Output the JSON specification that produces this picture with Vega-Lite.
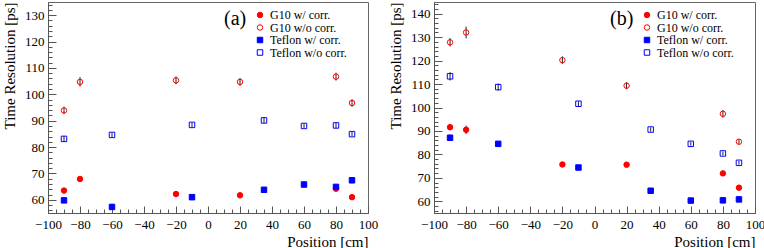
{
  "$schema": "https://vega.github.io/schema/vega-lite/v6.json",
  "padding": {"left": 1, "top": -3, "right": 0, "bottom": 0},
  "spacing": 66,
  "bounds": "flush",
  "config": {
    "view": {"stroke": "#666", "strokeWidth": 1},
    "font": "Liberation Serif",
    "style": {
      "guide-label": {"font": "Liberation Serif", "fill": "black"},
      "guide-title": {"font": "Liberation Serif", "fill": "black"}
    },
    "axis": {
      "grid": false, "domainColor": "#555", "tickColor": "#555", "labelColor": "black", "titleColor": "black",
      "labelFont": "Liberation Serif", "titleFont": "Liberation Serif", "labelFontSize": 13, "titleFontSize": 15, "titleFontWeight": "normal",
      "labelFlush": false, "labelOverlap": false, "titleAnchor": "end"
    },
    "legend": {
      "labelFont": "Liberation Serif",
      "titleFont": "Liberation Serif",
      "labelFontSize": 12,
      "titleFontSize": 20,
      "titleFontWeight": "normal",
      "labelColor": "black",
      "titleColor": "black"
    }
  },
  "datasets": {
    "a": [
      {"series": "G10 w/ corr.", "pos": -90, "res": 63.5, "lo": 62.8, "hi": 64.2},
      {"series": "G10 w/ corr.", "pos": -80, "res": 67.9, "lo": 66.9, "hi": 68.9},
      {"series": "G10 w/ corr.", "pos": -20, "res": 62.2, "lo": 61.5, "hi": 62.9},
      {"series": "G10 w/ corr.", "pos": 20, "res": 61.7, "lo": 61.0, "hi": 62.4},
      {"series": "G10 w/ corr.", "pos": 80, "res": 64.2, "lo": 63.5, "hi": 64.9},
      {"series": "G10 w/ corr.", "pos": 90, "res": 61.0, "lo": 60.4, "hi": 61.6},
      {"series": "G10 w/o corr.", "pos": -90, "res": 93.9, "lo": 92.5, "hi": 95.3},
      {"series": "G10 w/o corr.", "pos": -80, "res": 104.7, "lo": 102.9, "hi": 106.5},
      {"series": "G10 w/o corr.", "pos": -20, "res": 105.3, "lo": 103.8, "hi": 106.8},
      {"series": "G10 w/o corr.", "pos": 20, "res": 104.7, "lo": 103.2, "hi": 106.2},
      {"series": "G10 w/o corr.", "pos": 80, "res": 106.7, "lo": 105.2, "hi": 108.2},
      {"series": "G10 w/o corr.", "pos": 90, "res": 96.7, "lo": 95.3, "hi": 98.1},
      {"series": "Teflon w/ corr.", "pos": -90, "res": 59.8, "lo": 59.3, "hi": 60.3},
      {"series": "Teflon w/ corr.", "pos": -60, "res": 57.3, "lo": 56.8, "hi": 57.8},
      {"series": "Teflon w/ corr.", "pos": -10, "res": 61.0, "lo": 60.5, "hi": 61.5},
      {"series": "Teflon w/ corr.", "pos": 35, "res": 63.8, "lo": 63.3, "hi": 64.3},
      {"series": "Teflon w/ corr.", "pos": 60, "res": 65.8, "lo": 65.3, "hi": 66.3},
      {"series": "Teflon w/ corr.", "pos": 80, "res": 64.9, "lo": 64.4, "hi": 65.4},
      {"series": "Teflon w/ corr.", "pos": 90, "res": 67.4, "lo": 66.9, "hi": 67.9},
      {"series": "Teflon w/o corr.", "pos": -90, "res": 83.1, "lo": 82.0, "hi": 84.2},
      {"series": "Teflon w/o corr.", "pos": -60, "res": 84.6, "lo": 83.8, "hi": 85.4},
      {"series": "Teflon w/o corr.", "pos": -10, "res": 88.4, "lo": 87.6, "hi": 89.2},
      {"series": "Teflon w/o corr.", "pos": 35, "res": 90.1, "lo": 89.1, "hi": 91.1},
      {"series": "Teflon w/o corr.", "pos": 60, "res": 88.0, "lo": 87.2, "hi": 88.8},
      {"series": "Teflon w/o corr.", "pos": 80, "res": 88.2, "lo": 87.1, "hi": 89.3},
      {"series": "Teflon w/o corr.", "pos": 90, "res": 84.9, "lo": 84.1, "hi": 85.7}
    ],
    "b": [
      {"series": "G10 w/ corr.", "pos": -90, "res": 91.6, "lo": 90.3, "hi": 92.9},
      {"series": "G10 w/ corr.", "pos": -80, "res": 90.5, "lo": 88.7, "hi": 92.3},
      {"series": "G10 w/ corr.", "pos": -20, "res": 75.7, "lo": 75.0, "hi": 76.4},
      {"series": "G10 w/ corr.", "pos": 20, "res": 75.6, "lo": 74.9, "hi": 76.3},
      {"series": "G10 w/ corr.", "pos": 80, "res": 71.9, "lo": 71.2, "hi": 72.6},
      {"series": "G10 w/ corr.", "pos": 90, "res": 65.8, "lo": 65.1, "hi": 66.5},
      {"series": "G10 w/o corr.", "pos": -90, "res": 127.8, "lo": 126.0, "hi": 129.6},
      {"series": "G10 w/o corr.", "pos": -80, "res": 132.0, "lo": 129.5, "hi": 134.5},
      {"series": "G10 w/o corr.", "pos": -20, "res": 120.2, "lo": 118.6, "hi": 121.8},
      {"series": "G10 w/o corr.", "pos": 20, "res": 109.3, "lo": 107.8, "hi": 110.8},
      {"series": "G10 w/o corr.", "pos": 80, "res": 97.3, "lo": 95.7, "hi": 98.9},
      {"series": "G10 w/o corr.", "pos": 90, "res": 85.4, "lo": 84.4, "hi": 86.4},
      {"series": "Teflon w/ corr.", "pos": -90, "res": 87.1, "lo": 85.8, "hi": 88.4},
      {"series": "Teflon w/ corr.", "pos": -60, "res": 84.5, "lo": 83.7, "hi": 85.3},
      {"series": "Teflon w/ corr.", "pos": -10, "res": 74.4, "lo": 73.8, "hi": 75.0},
      {"series": "Teflon w/ corr.", "pos": 35, "res": 64.5, "lo": 63.9, "hi": 65.1},
      {"series": "Teflon w/ corr.", "pos": 60, "res": 60.3, "lo": 59.8, "hi": 60.8},
      {"series": "Teflon w/ corr.", "pos": 80, "res": 60.4, "lo": 59.9, "hi": 60.9},
      {"series": "Teflon w/ corr.", "pos": 90, "res": 60.8, "lo": 60.3, "hi": 61.3},
      {"series": "Teflon w/o corr.", "pos": -90, "res": 113.3, "lo": 111.5, "hi": 115.1},
      {"series": "Teflon w/o corr.", "pos": -60, "res": 108.7, "lo": 107.2, "hi": 110.2},
      {"series": "Teflon w/o corr.", "pos": -10, "res": 101.6, "lo": 100.6, "hi": 102.6},
      {"series": "Teflon w/o corr.", "pos": 35, "res": 90.6, "lo": 89.7, "hi": 91.5},
      {"series": "Teflon w/o corr.", "pos": 60, "res": 84.5, "lo": 83.7, "hi": 85.3},
      {"series": "Teflon w/o corr.", "pos": 80, "res": 80.4, "lo": 79.6, "hi": 81.2},
      {"series": "Teflon w/o corr.", "pos": 90, "res": 76.4, "lo": 75.6, "hi": 77.2}
    ]
  },
  "resolve": {
    "scale": {"x": "independent", "y": "independent", "fill": "independent", "stroke": "independent", "shape": "independent"},
    "axis": {"x": "independent", "y": "independent"},
    "legend": {"fill": "independent", "stroke": "independent", "shape": "independent"}
  },
  "hconcat": [
    {
      "width": 320,
      "height": 211,
      "data": {"name": "a"},
      "encoding": {
        "x": {"type": "quantitative", "title": "Position [cm]",
          "scale": {"domain": [-100, 100], "nice": false, "zero": false},
          "axis": {"titlePadding": 0, "labelPadding": 12, "labelFont": "Liberation Serif", "titleFont": "Liberation Serif", "labelFontSize": 13, "titleFontSize": 15,
            "tickSize": {"condition": {"test": "datum.value % 20 === 0", "value": -7}, "value": -4},
            "values": [-100,-95,-90,-85,-80,-75,-70,-65,-60,-55,-50,-45,-40,-35,-30,-25,-20,-15,-10,-5,0,5,10,15,20,25,30,35,40,45,50,55,60,65,70,75,80,85,90,95,100],
            "labelExpr": "datum.value % 20 === 0 ? datum.label : ''"}},
        "y": {"type": "quantitative", "title": "Time Resolution [ps]",
          "scale": {"domain": [55, 135], "nice": false, "zero": false},
          "axis": {"titlePadding": 7, "labelPadding": 12, "labelFont": "Liberation Serif", "titleFont": "Liberation Serif", "labelFontSize": 13, "titleFontSize": 15,
            "tickSize": {"condition": {"test": "datum.value % 10 === 0", "value": -8}, "value": -4},
            "values": [56,58,60,62,64,66,68,70,72,74,76,78,80,82,84,86,88,90,92,94,96,98,100,102,104,106,108,110,112,114,116,118,120,122,124,126,128,130,132,134],
            "labelExpr": "datum.value % 10 === 0 ? datum.label : ''"}}
      },
      "layer": [
        {
          "mark": {"type": "rule", "color": "#222", "strokeWidth": 1},
          "encoding": {
            "x": {"field": "pos", "type": "quantitative", "title": "Position [cm]"},
            "y": {"field": "lo", "type": "quantitative", "title": "Time Resolution [ps]"},
            "y2": {"field": "hi"}
          }
        },
        {
          "mark": {"type": "point", "size": 30, "strokeWidth": 1, "opacity": 1},
          "encoding": {
            "x": {"field": "pos", "type": "quantitative", "title": "Position [cm]"},
            "y": {"field": "res", "type": "quantitative", "title": "Time Resolution [ps]"},
            "fill": {"field": "series", "type": "nominal",
              "scale": {"domain": ["G10 w/ corr.", "G10 w/o corr.", "Teflon w/ corr.", "Teflon w/o corr."], "range": ["#ff0000", "transparent", "#0000ff", "transparent"]},
              "legend": {"title": "(a)", "orient": "none", "legendX": 176, "legendY": 7, "titleOrient": "left", "titleAnchor": "start", "titlePadding": 7, "symbolSize": 30, "symbolStrokeWidth": 1, "rowPadding": 0.5, "labelOffset": 4, "padding": 0}},
            "stroke": {"field": "series", "type": "nominal",
              "scale": {"domain": ["G10 w/ corr.", "G10 w/o corr.", "Teflon w/ corr.", "Teflon w/o corr."], "range": ["#ff0000", "#ff0000", "#0000ff", "#0000ff"]},
              "legend": {"title": "(a)", "orient": "none", "legendX": 176, "legendY": 7, "titleOrient": "left", "titleAnchor": "start", "titlePadding": 7, "symbolSize": 30, "symbolStrokeWidth": 1, "rowPadding": 0.5, "labelOffset": 4, "padding": 0}},
            "shape": {"field": "series", "type": "nominal",
              "scale": {"domain": ["G10 w/ corr.", "G10 w/o corr.", "Teflon w/ corr.", "Teflon w/o corr."], "range": ["circle", "circle", "square", "square"]},
              "legend": {"title": "(a)", "orient": "none", "legendX": 176, "legendY": 7, "titleOrient": "left", "titleAnchor": "start", "titlePadding": 7, "symbolSize": 30, "symbolStrokeWidth": 1, "rowPadding": 0.5, "labelOffset": 4, "padding": 0}}
          }
        }
      ]
    },
    {
      "width": 321,
      "height": 211,
      "data": {"name": "b"},
      "encoding": {
        "x": {"type": "quantitative", "title": "Position [cm]",
          "scale": {"domain": [-100, 100], "nice": false, "zero": false},
          "axis": {"titlePadding": 0, "labelPadding": 12, "labelFont": "Liberation Serif", "titleFont": "Liberation Serif", "labelFontSize": 13, "titleFontSize": 15,
            "tickSize": {"condition": {"test": "datum.value % 20 === 0", "value": -7}, "value": -4},
            "values": [-100,-95,-90,-85,-80,-75,-70,-65,-60,-55,-50,-45,-40,-35,-30,-25,-20,-15,-10,-5,0,5,10,15,20,25,30,35,40,45,50,55,60,65,70,75,80,85,90,95,100],
            "labelExpr": "datum.value % 20 === 0 ? datum.label : ''"}},
        "y": {"type": "quantitative", "title": "Time Resolution [ps]",
          "scale": {"domain": [55, 145], "nice": false, "zero": false},
          "axis": {"titlePadding": 7, "labelPadding": 12, "labelFont": "Liberation Serif", "titleFont": "Liberation Serif", "labelFontSize": 13, "titleFontSize": 15,
            "tickSize": {"condition": {"test": "datum.value % 10 === 0", "value": -8}, "value": -4},
            "values": [56,58,60,62,64,66,68,70,72,74,76,78,80,82,84,86,88,90,92,94,96,98,100,102,104,106,108,110,112,114,116,118,120,122,124,126,128,130,132,134,136,138,140,142,144],
            "labelExpr": "datum.value % 10 === 0 ? datum.label : ''"}}
      },
      "layer": [
        {
          "mark": {"type": "rule", "color": "#222", "strokeWidth": 1},
          "encoding": {
            "x": {"field": "pos", "type": "quantitative", "title": "Position [cm]"},
            "y": {"field": "lo", "type": "quantitative", "title": "Time Resolution [ps]"},
            "y2": {"field": "hi"}
          }
        },
        {
          "mark": {"type": "point", "size": 30, "strokeWidth": 1, "opacity": 1},
          "encoding": {
            "x": {"field": "pos", "type": "quantitative", "title": "Position [cm]"},
            "y": {"field": "res", "type": "quantitative", "title": "Time Resolution [ps]"},
            "fill": {"field": "series", "type": "nominal",
              "scale": {"domain": ["G10 w/ corr.", "G10 w/o corr.", "Teflon w/ corr.", "Teflon w/o corr."], "range": ["#ff0000", "transparent", "#0000ff", "transparent"]},
              "legend": {"title": "(b)", "orient": "none", "legendX": 176, "legendY": 7, "titleOrient": "left", "titleAnchor": "start", "titlePadding": 7, "symbolSize": 30, "symbolStrokeWidth": 1, "rowPadding": 0.5, "labelOffset": 4, "padding": 0}},
            "stroke": {"field": "series", "type": "nominal",
              "scale": {"domain": ["G10 w/ corr.", "G10 w/o corr.", "Teflon w/ corr.", "Teflon w/o corr."], "range": ["#ff0000", "#ff0000", "#0000ff", "#0000ff"]},
              "legend": {"title": "(b)", "orient": "none", "legendX": 176, "legendY": 7, "titleOrient": "left", "titleAnchor": "start", "titlePadding": 7, "symbolSize": 30, "symbolStrokeWidth": 1, "rowPadding": 0.5, "labelOffset": 4, "padding": 0}},
            "shape": {"field": "series", "type": "nominal",
              "scale": {"domain": ["G10 w/ corr.", "G10 w/o corr.", "Teflon w/ corr.", "Teflon w/o corr."], "range": ["circle", "circle", "square", "square"]},
              "legend": {"title": "(b)", "orient": "none", "legendX": 176, "legendY": 7, "titleOrient": "left", "titleAnchor": "start", "titlePadding": 7, "symbolSize": 30, "symbolStrokeWidth": 1, "rowPadding": 0.5, "labelOffset": 4, "padding": 0}}
          }
        }
      ]
    }
  ]
}
